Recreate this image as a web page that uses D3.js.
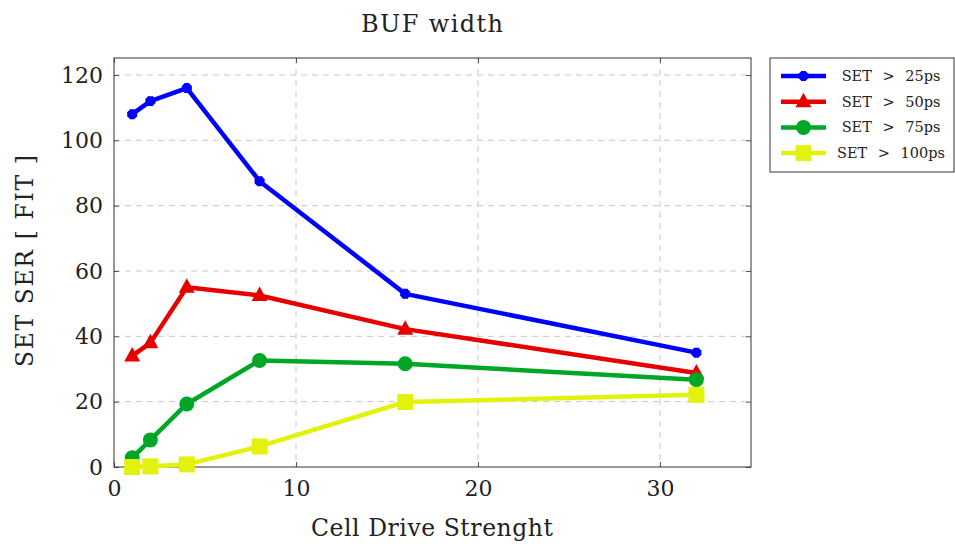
<!DOCTYPE html>
<html>
<head>
<meta charset="utf-8">
<script src="https://cdn.jsdelivr.net/npm/d3@7"></script>
<style>
  body{margin:0;background:#fff}
</style>
</head>
<body>
<svg id="chart" width="955" height="544" font-family="DejaVu Serif"></svg>
<script>
// drive strengths on the x axis
const drive = [1, 2, 4, 8, 16, 32]
const set25 = [108, 112, 116, 87.5, 53, 35]
const set50 = [34, 38, 55, 52.5, 42.2, 28.8]
const set75 = [2.8, 8.3, 19.3, 32.6, 31.6, 26.7]
const set100 = [0, 0.2, 0.8, 6.3, 19.9, 22.1]
const seriesNames = ['SET > 25ps', 'SET > 50ps', 'SET > 75ps', 'SET > 100ps']
const xTicks = [0, 10, 20, 30]
const yTicks = [0, 20, 40, 60, 80, 100, 120]

const series = [
  {name: seriesNames[0], values: set25, color: '#0000ff', mark: 'star'},
  {name: seriesNames[1], values: set50, color: '#e60000', mark: 'tri'},
  {name: seriesNames[2], values: set75, color: '#00a626', mark: 'circle'},
  {name: seriesNames[3], values: set100, color: '#e3f20c', mark: 'square'}
]

const FONT = 'DejaVu Serif'
const svg = d3.select('#chart')
const pLeft = 114, pRight = 751, pTop = 58, pBottom = 467

const x = d3.scaleLinear().domain([0, 35]).range([pLeft, pRight])
const y = d3.scaleLinear().domain([0, 125.2]).range([pBottom, pTop])

// grid
const grid = svg.append('g')
grid.selectAll('line.gx').data(xTicks.slice(1)).enter().append('line')
  .attr('x1', d => x(d)).attr('x2', d => x(d)).attr('y1', pTop).attr('y2', pBottom)
  .attr('stroke', '#c8c8c8').attr('stroke-dasharray', '6,5').attr('stroke-width', 1)
grid.selectAll('line.gy').data(yTicks.slice(1)).enter().append('line')
  .attr('y1', d => y(d)).attr('y2', d => y(d)).attr('x1', pLeft).attr('x2', pRight)
  .attr('stroke', '#c8c8c8').attr('stroke-dasharray', '6,5').attr('stroke-width', 1)

// axes, ticks pointing inward like pgfplots
const xAxis = svg.append('g').attr('transform', `translate(0,${pBottom})`)
  .call(d3.axisBottom(x).tickValues(xTicks).tickSize(-5).tickPadding(12))
const xAxisTop = svg.append('g').attr('transform', `translate(0,${pTop})`)
  .call(d3.axisTop(x).tickValues(xTicks).tickSize(-5).tickFormat(''))
const yAxis = svg.append('g').attr('transform', `translate(${pLeft},0)`)
  .call(d3.axisLeft(y).tickValues(yTicks).tickSize(-5).tickPadding(11))
const yAxisR = svg.append('g').attr('transform', `translate(${pRight},0)`)
  .call(d3.axisRight(y).tickValues(yTicks).tickSize(-5).tickFormat(''))

;[xAxis, xAxisTop, yAxis, yAxisR].forEach(a => {
  a.attr('font-family', FONT).attr('font-size', 22)
  a.select('.domain').remove()
  a.selectAll('line').attr('stroke', '#555').attr('stroke-width', 1)
  a.selectAll('text').attr('fill', '#222')
})
xAxis.selectAll('text').attr('dy', '0.75em')

svg.append('rect').attr('x', pLeft).attr('y', pTop).attr('width', pRight - pLeft).attr('height', pBottom - pTop)
  .attr('fill', 'none').attr('stroke', '#333').attr('stroke-width', 1)

// markers
function drawMark(g, type, color, cx, cy) {
  if (type === 'circle') {
    g.append('circle').attr('cx', cx).attr('cy', cy).attr('r', 7.5).attr('fill', color)
  } else if (type === 'square') {
    g.append('rect').attr('x', cx - 8).attr('y', cy - 8).attr('width', 16).attr('height', 16).attr('fill', color)
  } else if (type === 'tri') {
    g.append('path').attr('d', `M${cx},${cy - 9}L${cx + 8},${cy + 5.5}L${cx - 8},${cy + 5.5}Z`).attr('fill', color)
  } else {
    const sym = d3.symbol().type(d3.symbolCross).size(40)
    g.append('path').attr('transform', `translate(${cx},${cy}) rotate(45)`).attr('d', sym()).attr('fill', color)
      .attr('stroke', color).attr('stroke-width', 1.5)
    g.append('path').attr('transform', `translate(${cx},${cy})`).attr('d', sym()).attr('fill', color)
      .attr('stroke', color).attr('stroke-width', 1.5)
  }
}

const line = d3.line().x(d => x(d[0])).y(d => y(d[1]))
series.forEach(s => {
  const pts = drive.map((d, i) => [d, s.values[i]])
  const g = svg.append('g')
  g.append('path').datum(pts).attr('d', line).attr('fill', 'none')
    .attr('stroke', s.color).attr('stroke-width', 4.5).attr('stroke-linejoin', 'round')
  pts.forEach(p => drawMark(g, s.mark, s.color, x(p[0]), y(p[1])))
})

// titles
const txt = (xx, yy, size, len, s) => svg.append('text').attr('x', xx).attr('y', yy)
  .attr('text-anchor', 'middle').attr('font-family', FONT).attr('font-size', size).attr('fill', '#222')
  .attr('textLength', len).attr('lengthAdjust', 'spacing').text(s)
txt(432, 32, 24, 142, 'BUF width')
txt(432, 536, 23.5, 242, 'Cell Drive Strenght')
svg.append('text').attr('transform', `translate(33,${261}) rotate(-90)`)
  .attr('text-anchor', 'middle').attr('font-family', FONT).attr('font-size', 23.5).attr('fill', '#222')
  .attr('textLength', 212).attr('lengthAdjust', 'spacing')
  .text('SET SER [ FIT ]')

// legend
const lg = svg.append('g')
lg.append('rect').attr('x', 770).attr('y', 58).attr('width', 184).attr('height', 114)
  .attr('fill', '#fff').attr('stroke', '#333').attr('stroke-width', 1)
series.forEach((s, i) => {
  const ly = 76 + i * 25.7
  lg.append('line').attr('x1', 781).attr('x2', 826).attr('y1', ly).attr('y2', ly)
    .attr('stroke', s.color).attr('stroke-width', 4.5)
  drawMark(lg, s.mark, s.color, 803.5, ly)
  lg.append('text').attr('x', 891).attr('y', ly + 5).attr('text-anchor', 'middle')
    .attr('font-family', FONT).attr('font-size', 14.5).attr('word-spacing', 6).attr('fill', '#222').text(s.name)
})
</script>
</body>
</html>
